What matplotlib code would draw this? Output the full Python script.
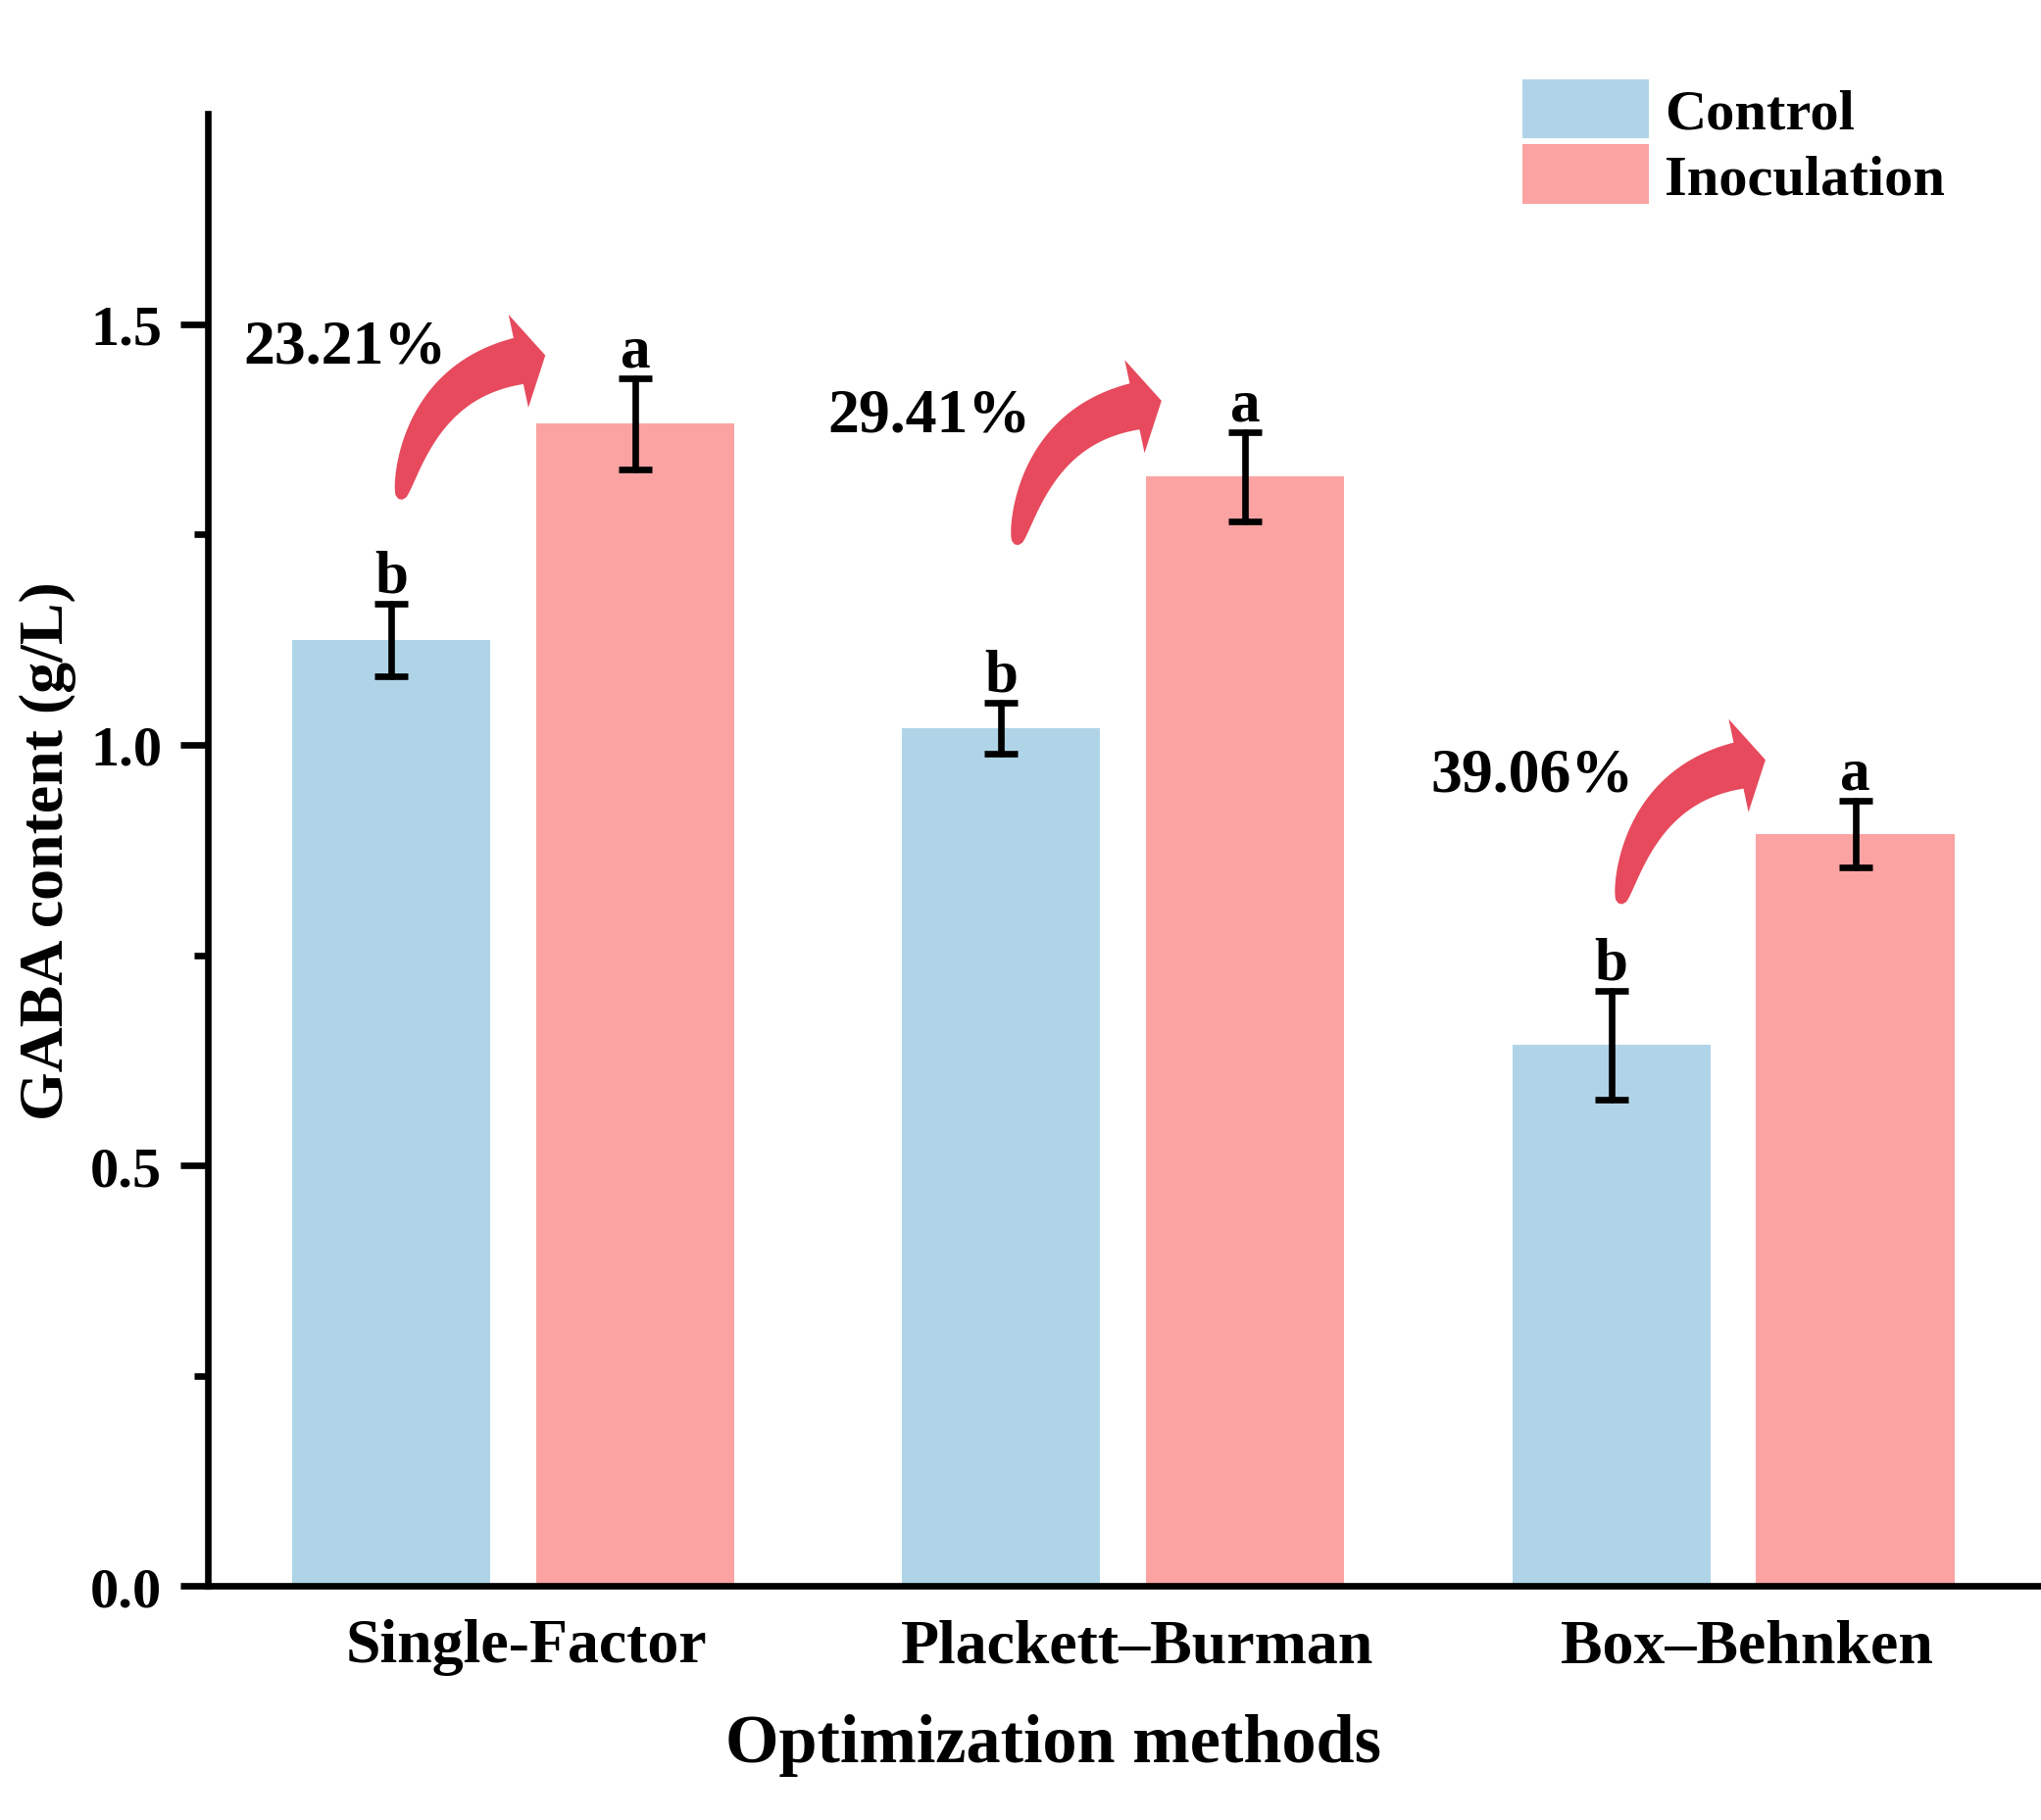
import numpy as np
import matplotlib
matplotlib.use("Agg")
import matplotlib.pyplot as plt
from matplotlib.patches import Polygon
from matplotlib.transforms import ScaledTranslation

# data
methods = ["Single-Factor", "Plackett\u2013Burman", "Box\u2013Behnken"]
control = [1.125, 1.02, 0.643]
control_err = [0.043, 0.03, 0.065]
inoculation = [1.382, 1.319, 0.894]
inoculation_err = [0.054, 0.053, 0.04]
control_sig = ["b", "b", "b"]
inoculation_sig = ["a", "a", "a"]
increase = ["23.21%", "29.41%", "39.06%"]

# annotation placement (data coords)
arrow_tail = [(-0.185, 1.292), (0.825, 1.238), (1.815, 0.811)]
pct_pos = [(-0.276, 1.455), (0.682, 1.374), (1.670, 0.946)]

c_blue = "#AFD4E7"
c_pink = "#FBA3A3"
c_arrow = "#E64A5C"

plt.rcParams["font.family"] = ["Liberation Serif", "DejaVu Serif"]
plt.rcParams["font.weight"] = "bold"

DPI = 200
fig = plt.figure(figsize=(2082 / DPI, 1858 / DPI), dpi=DPI)
ax = fig.add_axes([0.102, 0.1286, 0.8967, 0.8082])

x = np.arange(len(methods))
off = 0.2
w = 0.325
err_kw = dict(elinewidth=2.4, capsize=6, capthick=2.4, ecolor="black")

b1 = ax.bar(x - off, control, w, color=c_blue, linewidth=0, label="Control",
            yerr=control_err, error_kw=err_kw)
b2 = ax.bar(x + off, inoculation, w, color=c_pink, linewidth=0, label="Inoculation",
            yerr=inoculation_err, error_kw=err_kw)
for bc in (b1, b2):
    for line in bc.errorbar.lines[1]:
        line.set_solid_capstyle("round")
    for line in bc.errorbar.lines[2]:
        line.set_capstyle("round")

# significance letters
for i in range(len(methods)):
    ax.annotate(control_sig[i], (x[i] - off, control[i] + control_err[i]),
                xytext=(0, 4.5), textcoords="offset points", ha="center",
                va="baseline", fontsize=22, fontweight="bold")
    ax.annotate(inoculation_sig[i], (x[i] + off, inoculation[i] + inoculation_err[i]),
                xytext=(0, 4.5), textcoords="offset points", ha="center",
                va="baseline", fontsize=22, fontweight="bold")


def curved_arrow(xy):
    # shape in pixels (at 200 dpi) relative to the tail
    p0 = np.array([0.0, 0.0])
    p1 = np.array([22.0, 120.0])
    p2 = np.array([120.5, 141.0])
    t = np.linspace(0, 1, 80)[:, None]
    pts = (1 - t) ** 2 * p0 + 2 * t * (1 - t) * p1 + t ** 2 * p2
    tan = 2 * (1 - t) * (p1 - p0) + 2 * t * (p2 - p1)
    tan = tan / np.linalg.norm(tan, axis=1, keepdims=True)
    nrm = np.column_stack([-tan[:, 1], tan[:, 0]])
    half = (4 + 44 * t ** 0.42) / 2
    outer = pts + nrm * half
    inner = pts - nrm * half
    d = tan[-1]
    n = nrm[-1]
    head = [p2 + n * 48.5, p2 + d * 28, p2 - n * 48.5]
    verts = np.vstack([outer, head, inner[::-1]]) / DPI
    trans = fig.dpi_scale_trans + ScaledTranslation(xy[0], xy[1], ax.transData)
    ax.add_patch(Polygon(verts, closed=True, facecolor=c_arrow, edgecolor="none",
                         transform=trans, clip_on=False))


for i in range(len(methods)):
    curved_arrow(arrow_tail[i])
    ax.text(pct_pos[i][0], pct_pos[i][1], increase[i], ha="center", va="baseline",
            fontsize=23, fontweight="bold")

ax.set_xlim(-0.5, 2.5)
ax.set_ylim(0, 1.75)
ax.set_yticks([0, 0.5, 1.0, 1.5])
ax.set_yticklabels(["0.0", "0.5", "1.0", "1.5"])
ax.set_yticks([0.25, 0.75, 1.25], minor=True)
ax.set_xticks(x)
ax.set_xticklabels(methods)

for s in ["top", "right"]:
    ax.spines[s].set_visible(False)
for s in ["left", "bottom"]:
    ax.spines[s].set_linewidth(2.4)

ax.tick_params(axis="y", which="major", length=10, width=2.4, labelsize=21, pad=7)
ax.tick_params(axis="y", which="minor", length=5, width=2.4)
ax.tick_params(axis="x", length=0, labelsize=23, pad=12)
for lab in ax.get_xticklabels():
    lab.set_transform(lab.get_transform() + ScaledTranslation(5 / 72, 0, fig.dpi_scale_trans))

ax.set_ylabel("GABA content (g/L)", fontsize=23, fontweight="bold", labelpad=5)
ax.set_xlabel("Optimization methods", fontsize=25.3, fontweight="bold", labelpad=14, x=0.462)

fig.legend(handles=[b1, b2], loc="upper left", bbox_to_anchor=(0.746, 0.956),
           frameon=False, fontsize=21, handlelength=2.21, handleheight=1.22,
           handletextpad=0.27, labelspacing=0.08, borderpad=0, borderaxespad=0)

plt.savefig("out.png", dpi=DPI)
